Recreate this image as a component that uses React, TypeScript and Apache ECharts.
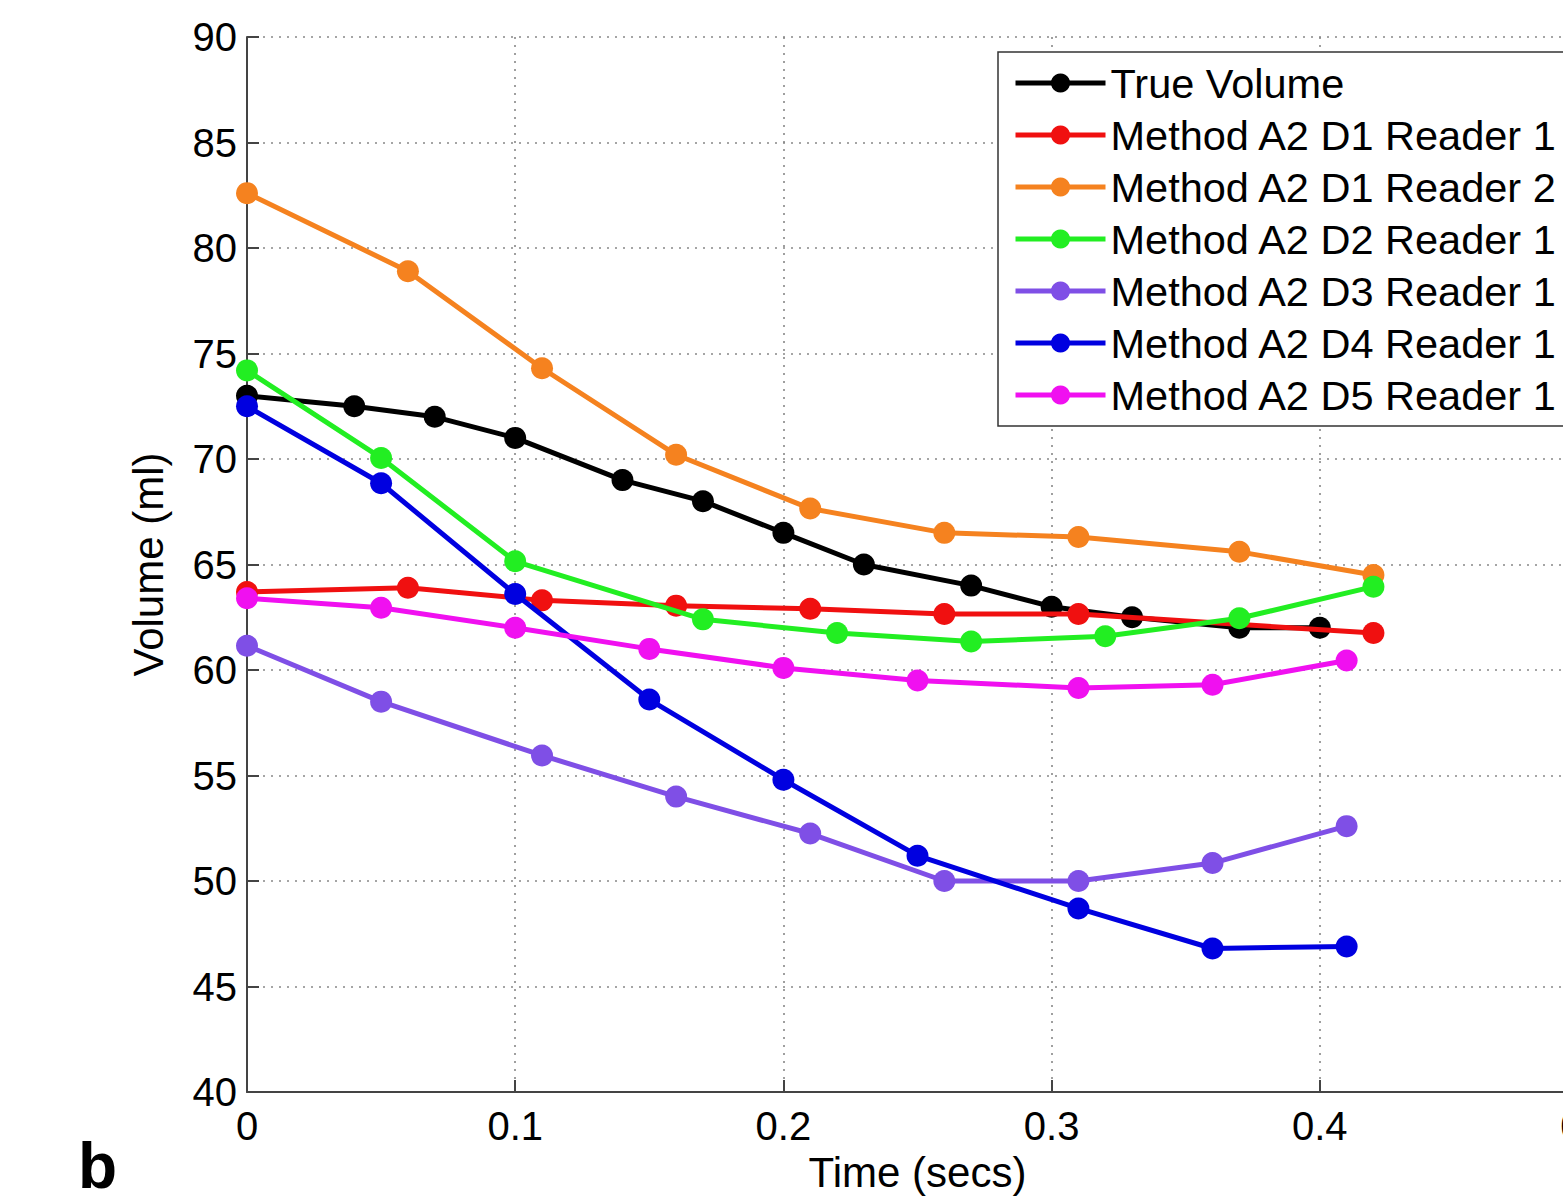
import React, { useEffect, useRef } from "react";
import * as echarts from "echarts";

const seriesNames = [
  "True Volume",
  "Method A2 D1 Reader 1",
  "Method A2 D1 Reader 2",
  "Method A2 D2 Reader 1",
  "Method A2 D3 Reader 1",
  "Method A2 D4 Reader 1",
  "Method A2 D5 Reader 1",
];

const trueTime = [0, 0.04, 0.07, 0.1, 0.14, 0.17, 0.2, 0.23, 0.27, 0.3, 0.33, 0.37, 0.4];
const trueVol = [73.0, 72.5, 72.0, 71.0, 69.0, 68.0, 66.5, 65.0, 64.0, 63.0, 62.5, 62.0, 62.0];

const d1r1Time = [0, 0.06, 0.11, 0.16, 0.21, 0.26, 0.31, 0.42];
const d1r1Vol = [63.7, 63.9, 63.3, 63.05, 62.9, 62.65, 62.65, 61.75];

const d1r2Time = [0, 0.06, 0.11, 0.16, 0.21, 0.26, 0.31, 0.37, 0.42];
const d1r2Vol = [82.6, 78.9, 74.3, 70.2, 67.65, 66.5, 66.3, 65.6, 64.5];

const d2r1Time = [0, 0.05, 0.1, 0.17, 0.22, 0.27, 0.32, 0.37, 0.42];
const d2r1Vol = [74.2, 70.05, 65.15, 62.4, 61.75, 61.35, 61.6, 62.45, 63.95];

const d3r1Time = [0, 0.05, 0.11, 0.16, 0.21, 0.26, 0.31, 0.36, 0.41];
const d3r1Vol = [61.15, 58.5, 55.95, 54.0, 52.25, 50.0, 50.0, 50.85, 52.6];

const d4r1Time = [0, 0.05, 0.1, 0.15, 0.2, 0.25, 0.31, 0.36, 0.41];
const d4r1Vol = [72.5, 68.85, 63.6, 58.6, 54.8, 51.2, 48.7, 46.8, 46.9];

const d5r1Time = [0, 0.05, 0.1, 0.15, 0.2, 0.25, 0.31, 0.36, 0.41];
const d5r1Vol = [63.4, 62.95, 62.0, 61.0, 60.1, 59.5, 59.15, 59.3, 60.45];

const allTimes = [trueTime, d1r1Time, d1r2Time, d2r1Time, d3r1Time, d4r1Time, d5r1Time];
const allVols = [trueVol, d1r1Vol, d1r2Vol, d2r1Vol, d3r1Vol, d4r1Vol, d5r1Vol];
const colors = ["#000000", "#f01010", "#f5821f", "#22ee22", "#7f4fe6", "#0000e0", "#f010f0"];

const xTicks = [0, 0.1, 0.2, 0.3, 0.4, 0.5];
const yTicks = [40, 45, 50, 55, 60, 65, 70, 75, 80, 85, 90];

const FONT = "'Liberation Sans', Arial, Helvetica, sans-serif";

export default function App() {
  const ref = useRef<HTMLDivElement>(null);
  useEffect(() => {
    document.body.style.margin = "0";
    const chart = echarts.init(ref.current!, null, { renderer: "svg" });
    const series = seriesNames.map((name, i) => ({
      name,
      type: "line",
      data: allTimes[i].map((t, j) => [t, allVols[i][j]]),
      symbol: "circle",
      symbolSize: 22,
      color: colors[i],
      lineStyle: { width: 5, color: colors[i] },
      itemStyle: { color: colors[i] },
      clip: false,
      z: 2 + i,
    }));
    chart.setOption({
      animation: false,
      backgroundColor: "#ffffff",
      grid: { left: 247, top: 37, width: 1341, height: 1055, containLabel: false, outerBoundsMode: "none" },
      xAxis: {
        type: "value",
        min: xTicks[0],
        max: xTicks[xTicks.length - 1],
        interval: 0.1,
        name: "Time (secs)",
        nameLocation: "middle",
        nameGap: 59,
        nameTextStyle: { fontFamily: FONT, fontSize: 42, color: "#000" },
        axisLine: { show: true, onZero: false, lineStyle: { color: "#444", width: 2 } },
        axisTick: { show: true, inside: true, length: 12, lineStyle: { color: "#444", width: 2 } },
        axisLabel: { fontFamily: FONT, fontSize: 40, color: "#000", margin: 14, formatter: (v: number) => String(+v.toFixed(1)) },
        splitLine: { show: true, lineStyle: { color: "#888", width: 1.6, type: [2, 6] } },
      },
      yAxis: {
        type: "value",
        min: yTicks[0],
        max: yTicks[yTicks.length - 1],
        interval: 5,
        name: "Volume (ml)",
        nameLocation: "middle",
        nameGap: 78,
        nameRotate: 90,
        nameTextStyle: { fontFamily: FONT, fontSize: 42, color: "#000" },
        axisLine: { show: true, onZero: false, lineStyle: { color: "#444", width: 2 } },
        axisTick: { show: true, inside: true, length: 12, lineStyle: { color: "#444", width: 2 } },
        axisLabel: { fontFamily: FONT, fontSize: 40, color: "#000", margin: 10 },
        splitLine: { show: true, lineStyle: { color: "#888", width: 1.6, type: [2, 6] } },
      },
      legend: {
        orient: "vertical",
        left: 998,
        top: 52,
        padding: [10, 30, 10, 15],
        itemWidth: 90,
        itemHeight: 24,
        itemGap: 10,
        backgroundColor: "#ffffff",
        borderColor: "#333",
        borderWidth: 1.5,
        borderRadius: 0,
        lineStyle: { width: 5 },
        textStyle: { fontFamily: FONT, fontSize: 41.5, color: "#000" },
        data: seriesNames,
      },
      graphic: [
        {
          type: "text",
          left: 78,
          top: 1134,
          style: { text: "b", font: `bold 64px ${FONT}`, fill: "#000" },
        },
      ],
      series,
    });
    return () => chart.dispose();
  }, []);
  return <div ref={ref} style={{ width: 1563, height: 1203 }} />;
}
